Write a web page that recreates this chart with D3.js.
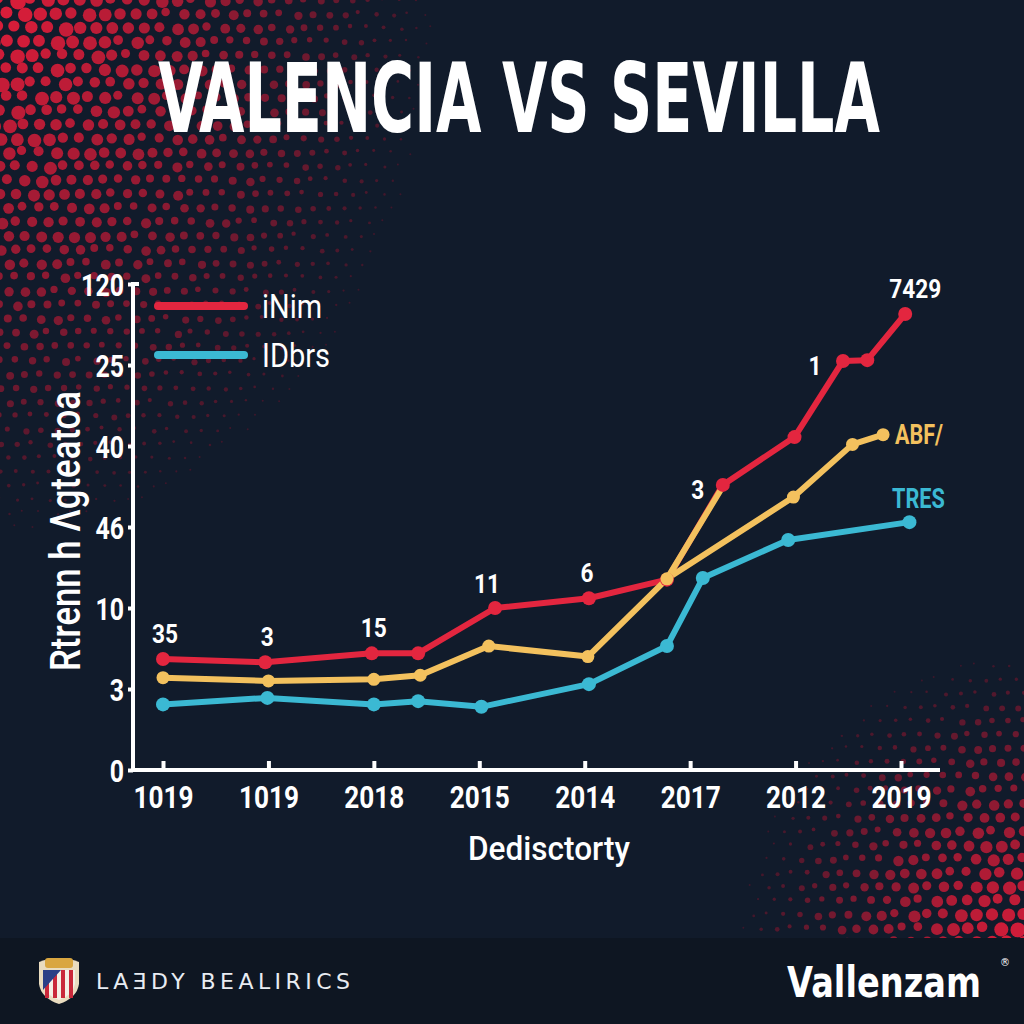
<!DOCTYPE html>
<html>
<head>
<meta charset="utf-8">
<script src="https://cdn.jsdelivr.net/npm/d3@7"></script>
<style>
  html, body { margin: 0; padding: 0; background: #111b2b; }
  svg { display: block; }
</style>
</head>
<body>
<svg id="svg" width="1024" height="1024"></svg>
<script>
const w = 1024;
const h = 1024;

// chart values (in axis index units)
const xLabels = ["1019", "1019", "2018", "2015", "2014", "2017", "2012", "2019"];
const yLabels = ["0", "3", "10", "46", "40", "25", "120"];

const redX = [0, 0.97, 1.98, 2.42, 3.15, 4.04, 4.78, 5.31, 5.99, 6.45, 6.68, 7.04];
const redY = [1.37, 1.33, 1.44, 1.44, 2.0, 2.12, 2.35, 3.52, 4.11, 5.05, 5.06, 5.63];
const redLabels = ["35", "3", "15", "", "11", "6", "", "3", "", "1", "", "7429"];

const yellowX = [0, 1.0, 2.0, 2.44, 3.09, 4.03, 4.78, 5.98, 6.54, 6.83];
const yellowY = [1.14, 1.1, 1.12, 1.17, 1.53, 1.4, 2.36, 3.37, 4.02, 4.14];
const yellowSpurX = [4.78, 5.3];
const yellowSpurY = [2.36, 3.48];

const cyanX = [0, 0.99, 2.0, 2.42, 3.02, 4.04, 4.78, 5.12, 5.93, 7.08];
const cyanY = [0.81, 0.89, 0.81, 0.85, 0.78, 1.06, 1.53, 2.37, 2.84, 3.06];

const legendNames = ["iNim", "IDbrs"];
const endNames = ["ABF/", "TRES"];

const RED = "#e3263f";
const YELLOW = "#f3c15e";
const CYAN = "#3bb9d3";
const FONT = "Roboto, 'Liberation Sans', sans-serif";

// squeeze text to a condensed look
const narrow = (sel, perChar) =>
  sel.attr("textLength", function () { return this.textContent.length * perChar; })
    .attr("lengthAdjust", "spacingAndGlyphs");

// squeeze a text horizontally with a transform so it spans `width`
const fitText = (g, x, y, width) => {
  const t = g.select("text");
  const natural = t.node().getComputedTextLength();
  g.attr("transform", `translate(${x},${y}) scale(${width / natural},1)`);
};

let svg = d3.select("#svg");

svg.append("rect").attr("width", w).attr("height", h).attr("fill", "#111b2b");

// halftone dots in the corners (decoration)
const dots = svg.append("g");
const halftone = (cx, cy, rx, ry, maxR) => {
  const step = 16;
  const rowH = step * 0.866;
  for (let j = -2; j * rowH < h + 20; j++) {
    for (let i = -2; i * step < w + 20; i++) {
      const n = Math.sin(i * 12.9898 + j * 78.233) * 43758.5453;
      const jit = n - Math.floor(n);
      const x = i * step + (j % 2 ? step / 2 : 0) + (jit - 0.5) * 5;
      const y = j * rowH + (jit - 0.5) * 4;
      const d = Math.sqrt(((x - cx) / rx) ** 2 + ((y - cy) / ry) ** 2);
      const t = 1 - d;
      if (t <= 0.02) continue;
      dots.append("circle")
        .attr("cx", x)
        .attr("cy", y)
        .attr("r", Math.max(1, maxR * Math.pow(t, 0.6) * (0.75 + 0.35 * jit)))
        .attr("fill", d3.interpolateRgb("#36172a", "#de1d3a")(Math.pow(t, 0.9)));
    }
  }
};
halftone(0, 0, 440, 540, 7.5);
halftone(1024, 960, 290, 310, 7.5);

// footer band
svg.append("rect").attr("x", 0).attr("y", 938).attr("width", w).attr("height", h - 938).attr("fill", "#0e1622");

// title
const titleG = svg.append("g");
titleG.append("text")
  .attr("fill", "#ffffff")
  .style("font-family", "'DejaVu Sans Condensed', 'DejaVu Sans', sans-serif")
  .style("font-weight", "bold")
  .style("font-size", "96px")
  .text("VALENCIA VS SEVILLA");
fitText(titleG, 158, 132, 722);

// scales
let xScale = d3.scaleLinear([0, 7], [163, 901]);
let yScale = d3.scaleLinear([0, 6], [770, 284]);

// y axis
const yAxis = svg.append("g")
  .attr("transform", "translate(133,0)")
  .call(d3.axisLeft(yScale).tickValues(d3.range(7)).tickFormat((i) => yLabels[i]).tickSize(5).tickPadding(4));
yAxis.select(".domain").remove();
yAxis.selectAll(".tick line").attr("stroke", "#ffffff").attr("stroke-width", 4);
yAxis.selectAll(".tick text")
  .attr("fill", "#ffffff")
  .attr("dy", "0.36em")
  .style("font-family", FONT)
  .style("font-weight", "bold")
  .style("font-size", "31px")
  .call(narrow, 14.3);

svg.append("path")
  .attr("d", `M139,${yScale(6)}H133V${yScale(0)}H940`)
  .attr("fill", "none")
  .attr("stroke", "#ffffff")
  .attr("stroke-width", 4);

// x axis (ticks point up)
const xAxis = svg.append("g")
  .attr("transform", "translate(0,770)")
  .call(d3.axisBottom(xScale).tickValues(d3.range(8)).tickFormat((i) => xLabels[i]).tickSize(0).tickPadding(14));
xAxis.select(".domain").remove();
xAxis.selectAll(".tick line").attr("y2", -9).attr("stroke", "#ffffff").attr("stroke-width", 4);
xAxis.selectAll(".tick text")
  .attr("fill", "#ffffff")
  .attr("dy", "0.75em")
  .style("font-family", FONT)
  .style("font-weight", "bold")
  .style("font-size", "32px")
  .call(narrow, 15);

// axis titles
svg.append("text")
  .attr("transform", "translate(80,531) rotate(-90)")
  .attr("text-anchor", "middle")
  .attr("textLength", 280)
  .attr("lengthAdjust", "spacingAndGlyphs")
  .attr("fill", "#ffffff")
  .style("font-family", FONT)
  .style("font-weight", "500")
  .style("font-size", "42px")
  .text("Rtrenn h \u039Bgteatoa");

svg.append("text")
  .attr("x", 468)
  .attr("y", 860)
  .attr("textLength", 162)
  .attr("lengthAdjust", "spacingAndGlyphs")
  .attr("fill", "#ffffff")
  .style("font-family", FONT)
  .style("font-weight", "500")
  .style("font-size", "33px")
  .text("Dedisctorty");

// lines
const zip = (xs, ys) => xs.map((x, i) => [x, ys[i]]);
const redData = zip(redX, redY);
const yellowData = zip(yellowX, yellowY);
const yellowSpur = zip(yellowSpurX, yellowSpurY);
const cyanData = zip(cyanX, cyanY);

let lineFunc = d3.line()
  .x((d) => xScale(d[0]))
  .y((d) => yScale(d[1]));

const drawLine = (data, color) => {
  svg.append("path")
    .datum(data)
    .attr("fill", "none")
    .attr("stroke", color)
    .attr("stroke-width", 6)
    .attr("stroke-linejoin", "round")
    .attr("stroke-linecap", "round")
    .attr("d", lineFunc);
};
drawLine(redData, RED);
drawLine(yellowSpur, YELLOW);
drawLine(yellowData, YELLOW);
drawLine(cyanData, CYAN);

const drawDots = (data, color, r) => {
  svg.append("g")
    .selectAll("circle")
    .data(data)
    .join("circle")
    .attr("cx", (d) => xScale(d[0]))
    .attr("cy", (d) => yScale(d[1]))
    .attr("r", r)
    .attr("fill", color);
};
drawDots(redData, RED, 7);
drawDots(yellowData, YELLOW, 6.5);
drawDots(cyanData, CYAN, 7);

// value labels on the red series
const labelOffset = { 4: [-8, -15], 5: [-2, -16], 7: [-25, 14], 9: [-28, 14], 11: [10, -16] };
svg.append("g")
  .selectAll("text")
  .data(redData.map((d, i) => ({ d, i, t: redLabels[i] })).filter((o) => o.t !== ""))
  .join("text")
  .attr("x", (o) => xScale(o.d[0]) + (labelOffset[o.i] ? labelOffset[o.i][0] : 2))
  .attr("y", (o) => yScale(o.d[1]) + (labelOffset[o.i] ? labelOffset[o.i][1] : -16))
  .attr("text-anchor", "middle")
  .attr("fill", "#ffffff")
  .style("font-family", FONT)
  .style("font-weight", "bold")
  .style("font-size", "26px")
  .text((o) => o.t)
  .call(narrow, 13);

// series end labels
const yLast = yellowData[yellowData.length - 1];
svg.append("text")
  .attr("x", xScale(yLast[0]) + 12)
  .attr("y", yScale(yLast[1]) + 9)
  .attr("fill", YELLOW)
  .style("font-family", FONT)
  .style("font-weight", "bold")
  .style("font-size", "28px")
  .text(endNames[0])
  .call(narrow, 12);

const cLast = cyanData[cyanData.length - 1];
svg.append("text")
  .attr("x", xScale(cLast[0]) + 9)
  .attr("y", yScale(cLast[1]) - 14)
  .attr("text-anchor", "middle")
  .attr("fill", CYAN)
  .style("font-family", FONT)
  .style("font-weight", "bold")
  .style("font-size", "28px")
  .text(endNames[1])
  .call(narrow, 13.2);

// legend
const legendColors = [RED, CYAN];
const legend = svg.append("g");
legendNames.forEach((name, i) => {
  const y = 306 + i * 49;
  legend.append("line")
    .attr("x1", 158).attr("x2", 244)
    .attr("y1", y).attr("y2", y)
    .attr("stroke", legendColors[i])
    .attr("stroke-width", 8)
    .attr("stroke-linecap", "round");
  legend.append("text")
    .attr("x", 262)
    .attr("y", y + 12)
    .attr("fill", "#ffffff")
    .style("font-family", FONT)
    .style("font-size", "34px")
    .text(name)
    .call(narrow, i === 0 ? 15 : 13.6);
});

// footer: crest + brand names
const crest = svg.append("g").attr("transform", "translate(59,980)");
crest.append("path")
  .attr("d", "M-20,-18 Q0,-26 20,-18 L20,4 Q18,18 0,24 Q-18,18 -20,4 Z")
  .attr("fill", "#e9dcc0");
crest.append("path")
  .attr("d", "M-16,-10 H16 V4 Q14,15 0,20 Q-14,15 -16,4 Z")
  .attr("fill", "#f4efe6");
[-12, -4, 4, 12].forEach((sx) => {
  crest.append("rect").attr("x", sx - 2).attr("y", -10).attr("width", 4).attr("height", 28).attr("fill", "#c9283a");
});
crest.append("path").attr("d", "M-16,-10 L2,-10 L-16,10 Z").attr("fill", "#2b3f86");
crest.append("rect").attr("x", -14).attr("y", -22).attr("width", 28).attr("height", 10).attr("rx", 3).attr("fill", "#d9a640");

svg.append("text")
  .attr("x", 96)
  .attr("y", 989)
  .attr("textLength", 254)
  .attr("lengthAdjust", "spacing")
  .attr("fill", "#e8ecf2")
  .style("font-family", "'DejaVu Sans', sans-serif")
  .style("font-size", "22px")
  .text("LA\u018EDY BEALIRICS");

const brandG = svg.append("g");
brandG.append("text")
  .attr("fill", "#ffffff")
  .style("font-family", "'DejaVu Sans', sans-serif")
  .style("font-weight", "bold")
  .style("font-size", "42px")
  .text("Vallenzam");
fitText(brandG, 787, 997, 194);

svg.append("text")
  .attr("x", 1000)
  .attr("y", 966)
  .attr("fill", "#ffffff")
  .style("font-family", "'DejaVu Sans', sans-serif")
  .style("font-size", "10px")
  .text("\u00AE");
</script>
</body>
</html>
